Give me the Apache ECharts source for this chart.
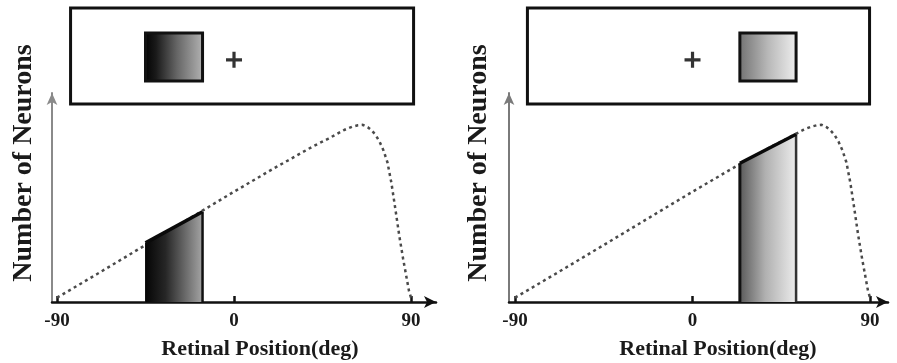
<!DOCTYPE html>
<html><head><meta charset="utf-8">
<script src="https://cdn.jsdelivr.net/npm/echarts@6/dist/echarts.min.js"></script>
<style>html,body{margin:0;padding:0;background:#fff}#c{width:897px;height:363px}</style>
</head><body><div id="c"></div>
<script>
// ---- data ----
const xTickValues = [-90, 0, 90];
const curveX = [-90, -70, -45, -20, 0, 20, 40, 48, 52, 56, 60, 63, 65.5, 68, 70, 72, 74, 76, 78, 80, 82, 84, 86, 88, 89, 90];
const curveY = [2, 12.8, 26.5, 40.3, 51.3, 62, 72.3, 76, 78, 80, 81.5, 82.2, 82.4, 81.3, 79.8, 77.7, 74.6, 70.5, 65, 55.5, 43.5, 31, 20, 10, 5, 2];
const leftBandX = [-45, -16];
const leftBandTop = [27.5, 42];
const rightBandX = [24, 52.5];
const rightBandTop = [64.5, 78];
const fixationX = [0];
const fixationY = [0.46];
const stimulusY = [0.24, 0.74];
const leftScreenX = [-83.1, 91.3];
const rightScreenX = [-83.7, 89.75];
const xTitle = 'Retinal Position(deg)';
const yTitle = 'Number of Neurons';

// ---- layout / style ----
const serif = "'Liberation Serif', 'DejaVu Serif', serif";
const panels = [
  { left: 52, right: 461, xMin: -92.54, xMax: 102.7, bandX: leftBandX, bandTop: leftBandTop, screenX: leftScreenX,
    bandStops: [[0,'#050505'],[0.35,'#262626'],[0.7,'#6a6a6a'],[1,'#a4a4a4']],
    stimStops: [[0,'#000000'],[0.2,'#1a1a1a'],[0.55,'#666666'],[1,'#b5b5b5']],
    edgeL: {color:'#111', width:1}, edgeR: {color:'#111', width:2.5},
    yAxisColor: '#8a8a8a', yTitleX: 24, xTitleX: 260 },
  { left: 509, right: 9, xMin: -93.04, xMax: 99.1, bandX: rightBandX, bandTop: rightBandTop, screenX: rightScreenX,
    bandStops: [[0,'#5a5a5a'],[0.45,'#b0b0b0'],[1,'#ececec']],
    stimStops: [[0,'#707070'],[0.5,'#b8b8b8'],[1,'#f0f0f0']],
    edgeL: {color:'#111', width:3}, edgeR: {color:'#333', width:2.5},
    yAxisColor: '#7a7a7a', yTitleX: 479, xTitleX: 718 }
];

function grad(stops) {
  return new echarts.graphic.LinearGradient(0, 0, 1, 0, stops.map(s => ({offset: s[0], color: s[1]})));
}
function rectItem(style) {
  return function (params, api) {
    const a = api.coord([api.value(0), api.value(3)]);
    const b = api.coord([api.value(1), api.value(2)]);
    return { type: 'rect', shape: { x: a[0], y: a[1], width: b[0] - a[0], height: b[1] - a[1] }, style: style };
  };
}

const grid = [], xAxis = [], yAxis = [], series = [], graphic = [];
panels.forEach((p, i) => {
  const gb = 2 * i, gt = 2 * i + 1;
  grid.push({ left: p.left, right: p.right, top: 93, height: 209, containLabel: false });
  grid.push({ left: p.left, right: p.right, top: 8, height: 96, containLabel: false });
  xAxis.push({
    type: 'value', gridIndex: gb, min: p.xMin, max: p.xMax,
    splitLine: { show: false },
    axisLine: { show: true, onZero: false, symbol: ['none', 'arrow'], symbolSize: [9, 12],
      lineStyle: { color: '#111', width: 2.5 } },
    axisTick: { show: true, inside: true, length: 6, customValues: xTickValues, lineStyle: { color: '#111', width: 2.5 } },
    axisLabel: { show: true, customValues: xTickValues, margin: 10, color: '#1a1a1a',
      fontFamily: serif, fontSize: 19, fontWeight: 'bold' }
  });
  xAxis.push({ type: 'value', gridIndex: gt, min: p.xMin, max: p.xMax, show: false });
  yAxis.push({
    type: 'value', gridIndex: gb, min: 0, max: 97.2,
    splitLine: { show: false }, axisTick: { show: false }, axisLabel: { show: false },
    axisLine: { show: true, onZero: false, symbol: ['none', 'arrow'], symbolSize: [8, 12],
      lineStyle: { color: p.yAxisColor, width: 2 } }
  });
  yAxis.push({ type: 'value', gridIndex: gt, min: 0, max: 1, show: false });

  // dotted distribution curve
  series.push({
    type: 'line', xAxisIndex: gb, yAxisIndex: gb, z: 2, showSymbol: false, silent: true,
    smooth: false,
    data: curveX.map((x, k) => [x, curveY[k]]),
    lineStyle: { color: '#4a4a4a', width: 2.5, type: [3, 3.5] }
  });
  // shaded band
  const x0 = p.bandX[0], x1 = p.bandX[1], t0 = p.bandTop[0], t1 = p.bandTop[1];
  series.push({
    type: 'line', xAxisIndex: gb, yAxisIndex: gb, z: 3, showSymbol: false, silent: true,
    data: [[x0, 0], [x0, t0], [x1, t1], [x1, 0]],
    lineStyle: { width: 0 }, areaStyle: { color: grad(p.bandStops), opacity: 1 }
  });
  series.push({ type: 'line', xAxisIndex: gb, yAxisIndex: gb, z: 4, showSymbol: false, silent: true,
    data: [[x0, 0], [x0, t0]], lineStyle: p.edgeL });
  series.push({ type: 'line', xAxisIndex: gb, yAxisIndex: gb, z: 4, showSymbol: false, silent: true,
    data: [[x1, 0], [x1, t1]], lineStyle: p.edgeR });
  series.push({ type: 'line', xAxisIndex: gb, yAxisIndex: gb, z: 5, showSymbol: false, silent: true,
    data: [[x0, t0], [x1, t1]], lineStyle: { color: '#0a0a0a', width: 3.5 } });

  // stimulus screen frame
  series.push({ type: 'custom', xAxisIndex: gt, yAxisIndex: gt, silent: true,
    data: [[p.screenX[0], p.screenX[1], 0, 1]],
    renderItem: rectItem({ fill: 'rgba(0,0,0,0)', stroke: '#111', lineWidth: 3 }) });
  // stimulus patch
  series.push({ type: 'custom', xAxisIndex: gt, yAxisIndex: gt, silent: true,
    data: [[x0, x1, stimulusY[0], stimulusY[1]]],
    renderItem: rectItem({ fill: grad(p.stimStops), stroke: '#111', lineWidth: 3 }) });
  // fixation cross
  series.push({ type: 'scatter', xAxisIndex: gt, yAxisIndex: gt, silent: true,
    data: fixationX.map((x, k) => [x, fixationY[k]]),
    symbol: 'path://M0,40 L100,40 L100,60 L0,60 Z M40,0 L60,0 L60,100 L40,100 Z',
    symbolSize: 16, itemStyle: { color: '#000' } });

  graphic.push({ type: 'text', x: p.yTitleX, y: 163, rotation: Math.PI / 2,
    style: { text: yTitle, font: 'bold 28px ' + serif, fill: '#1a1a1a', textAlign: 'center', textVerticalAlign: 'middle' } });
  graphic.push({ type: 'text', x: p.xTitleX, y: 349,
    style: { text: xTitle, font: 'bold 22px ' + serif, fill: '#1a1a1a', textAlign: 'center', textVerticalAlign: 'middle' } });
});

const chart = echarts.init(document.getElementById('c'), null, { renderer: 'canvas' });
chart.setOption({ animation: false, backgroundColor: '#fff', grid, xAxis, yAxis, series, graphic });
</script>
</body></html>
